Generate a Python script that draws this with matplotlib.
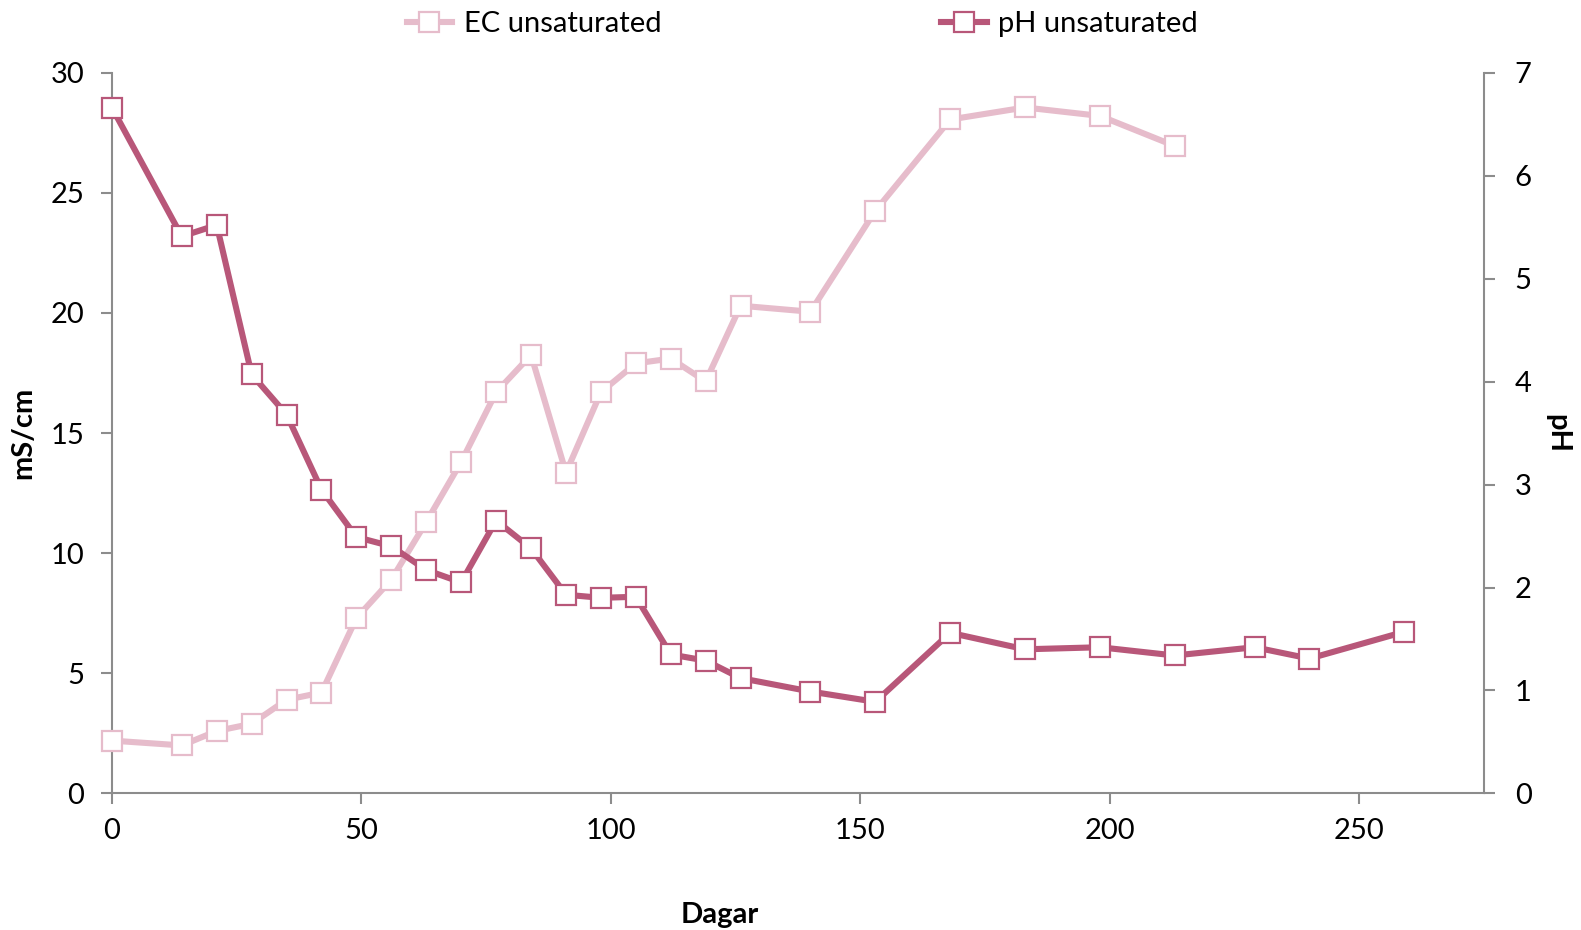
import matplotlib
matplotlib.use("Agg")
import matplotlib.pyplot as plt
from matplotlib.lines import Line2D

plt.rcParams['font.family'] = ['Lato', 'DejaVu Sans']

days_ec = [0, 14, 21, 28, 35, 42, 49, 56, 63, 70, 77, 84, 91, 98, 105, 112, 119, 126, 140, 153, 168, 183, 198, 213]
ec = [2.2, 2.0, 2.6, 2.9, 3.9, 4.2, 7.3, 8.9, 11.3, 13.8, 16.7, 18.25, 13.35, 16.7, 17.9, 18.1, 17.15, 20.3, 20.05, 24.25, 28.05, 28.55, 28.2, 26.95]

days_ph = [0, 14, 21, 28, 35, 42, 49, 56, 63, 70, 77, 84, 91, 98, 105, 112, 119, 126, 140, 153, 168, 183, 198, 213, 229, 240, 259]
ph = [6.66, 5.41, 5.52, 4.07, 3.68, 2.95, 2.49, 2.40, 2.17, 2.05, 2.65, 2.38, 1.93, 1.90, 1.91, 1.35, 1.29, 1.12, 0.99, 0.89, 1.56, 1.40, 1.42, 1.34, 1.42, 1.31, 1.57]

x_ticks = [0, 50, 100, 150, 200, 250]
y_left_ticks = [0, 5, 10, 15, 20, 25, 30]
y_right_ticks = [0, 1, 2, 3, 4, 5, 6, 7]

EC_COL = '#E6BCCB'
PH_COL = '#B85779'
AX_COL = '#8C8C8C'
FS = 21

fig = plt.figure(figsize=(15.81, 9.30), dpi=100)
ax = fig.add_axes([0.0708, 0.1468, 0.8679, 0.7751])
ax2 = ax.twinx()

ms = 14
mew = 1.6
lw = 4.4
ax.plot(days_ec, ec, color=EC_COL, lw=lw, marker='s', ms=ms, mfc='white', mec=EC_COL, mew=mew, zorder=3, clip_on=False)
ax2.plot(days_ph, ph, color=PH_COL, lw=lw, marker='s', ms=ms, mfc='white', mec=PH_COL, mew=mew, zorder=3, clip_on=False)

ax.set_xlim(0, 275)
ax.set_ylim(0, 30)
ax2.set_ylim(0, 7)
ax.set_xticks(x_ticks)
ax.set_yticks(y_left_ticks)
ax2.set_yticks(y_right_ticks)

for a in (ax, ax2):
    for s in a.spines.values():
        s.set_color(AX_COL)
        s.set_linewidth(1.5)
    a.spines['top'].set_visible(False)
    a.tick_params(colors=AX_COL, labelcolor='black', labelsize=FS, width=1.5, length=8, direction='out')
ax.spines['right'].set_visible(False)
ax2.spines['left'].set_visible(False)
ax2.spines['bottom'].set_visible(False)
ax.tick_params(axis='x', pad=10)
ax.tick_params(axis='y', pad=12)
ax2.tick_params(axis='y', pad=14)

ax.set_ylabel('mS/cm', fontsize=FS, fontweight='bold', labelpad=10)
ax2.set_ylabel('pH', fontsize=FS, fontweight='bold', rotation=270, labelpad=28)
fig.text(714 * 1.0083 / 1581, 1 - 907 * 1.0083 / 930, 'Dagar', fontsize=FS,
         fontweight='bold', ha='center', va='center')

handles = [
    Line2D([], [], color=EC_COL, lw=lw, marker='s', ms=ms, mfc='white', mec=EC_COL, mew=mew),
    Line2D([], [], color=PH_COL, lw=lw, marker='s', ms=ms, mfc='white', mec=PH_COL, mew=mew),
]
fig.legend(handles, ['EC unsaturated', 'pH unsaturated'], loc='upper center',
           bbox_to_anchor=(0.5075, 1.016), ncol=2, frameon=False, fontsize=FS,
           handlelength=1.55, handletextpad=0.4, columnspacing=9.6)

fig.savefig('out.png', dpi=100)
